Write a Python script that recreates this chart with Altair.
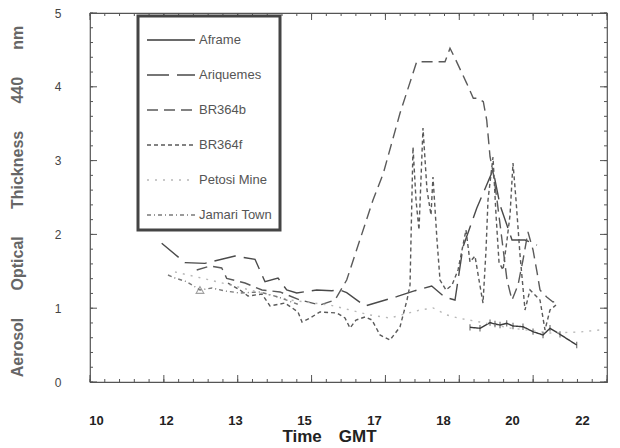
import altair as alt
import pandas as pd

# ---- data (hours GMT, AOT at 440 nm) ----
series_names = ["Aframe", "Ariquemes", "BR364b", "BR364f", "Petosi Mine", "Jamari Town"]

aframe_t = [18.820, 19.052, 19.285, 19.400, 19.517, 19.672, 19.818, 20.050, 20.283, 20.515, 20.677, 20.909, 21.297]
aframe_v = [0.741, 0.728, 0.804, 0.786, 0.772, 0.795, 0.759, 0.749, 0.682, 0.637, 0.728, 0.646, 0.501]

ariq_t = [11.664, 12.205, 12.669, 13.366, 13.830, 14.062, 14.364, 14.566, 14.798, 15.262, 15.610, 15.803,
          15.958, 16.383, 17.119, 17.544, 17.931, 18.240, 18.472, 18.658, 18.976, 19.354, 19.517, 19.795,
          20.097, 20.375]
ariq_v = [1.879, 1.617, 1.608, 1.707, 1.663, 1.359, 1.409, 1.247, 1.206, 1.247, 1.237, 1.247,
          1.210, 1.030, 1.156, 1.237, 1.301, 1.148, 1.111, 1.829, 2.354, 2.873, 2.398, 1.924,
          1.924, 1.856]

br_b_t = [12.477, 12.785, 13.057, 13.173, 13.598, 13.992, 14.410, 14.874, 15.339, 15.687, 15.958, 16.569,
          16.808, 17.195, 17.583, 18.240, 18.356, 18.472, 18.744, 18.897, 19.013, 19.129, 19.208, 19.285,
          19.361, 19.447, 19.563, 19.679, 19.795, 19.934, 20.050, 20.166, 20.283, 20.375, 20.445, 20.600,
          20.747, 20.909]
br_b_v = [1.518, 1.572, 1.545, 1.405, 1.341, 1.247, 1.220, 1.111, 1.043, 1.111, 1.382, 2.466,
          2.828, 3.641, 4.340, 4.340, 4.522, 4.386, 4.047, 3.844, 3.844, 3.798, 3.550, 3.053,
          2.828, 2.466, 1.924, 1.382, 1.111, 1.314, 1.653, 2.033, 1.789, 1.491, 1.247, 1.152,
          1.084, 1.111]

br_f_t = [13.203, 13.482, 13.667, 13.992, 14.178, 14.526, 14.828, 14.921, 15.106, 15.339, 15.734, 15.919,
          16.035, 16.174, 16.383, 16.545, 16.731, 16.963, 17.195, 17.358, 17.428, 17.497, 17.567, 17.636,
          17.729, 17.822, 17.915, 17.961, 18.054, 18.124, 18.263, 18.403, 18.542, 18.635, 18.727, 18.820,
          18.936, 19.029, 19.122, 19.192, 19.238, 19.354, 19.424, 19.493, 19.586, 19.679, 19.749, 19.818,
          19.888, 19.981, 20.097, 20.213, 20.329, 20.445, 20.561, 20.677, 20.816]
br_f_v = [1.341, 1.247, 1.165, 1.192, 1.030, 1.070, 0.949, 0.813, 0.867, 0.949, 0.935, 0.867,
          0.732, 0.840, 0.881, 0.840, 0.637, 0.569, 0.745, 1.111, 1.314, 3.184, 2.466, 2.060,
          3.442, 2.602, 2.263, 2.778, 1.924, 1.382, 1.247, 1.314, 1.518, 1.789, 2.060, 1.626,
          1.707, 1.382, 1.070, 1.789, 2.466, 3.049, 2.263, 1.626, 1.518, 1.924, 2.263, 2.967,
          2.466, 1.721, 0.976, 1.247, 1.179, 1.111, 0.705, 0.976, 1.043]

petosi_t = [11.973, 12.785, 13.714, 14.642, 15.571, 16.499, 16.963, 17.660, 17.961, 18.286, 18.542, 19.052,
            19.749, 20.677, 21.373, 21.838]
petosi_v = [1.491, 1.382, 1.247, 1.111, 1.043, 0.908, 0.867, 0.976, 1.003, 0.908, 0.867, 0.813,
            0.732, 0.664, 0.678, 0.705]

jamari_t = [11.810, 11.973, 12.245, 12.553, 12.832, 13.133, 13.482, 13.946, 14.364, 14.874]
jamari_v = [1.450, 1.409, 1.359, 1.247, 1.274, 1.233, 1.206, 1.220, 1.152, 1.043]
jamari_marker_t = [12.553]
jamari_marker_v = [1.247]

# axis tick / label definitions
x_label_pos = [10.139, 11.764, 13.366, 14.967, 16.592, 18.193, 19.795, 21.420]
x_label_txt = ["10", "12", "13", "15", "17", "18", "20", "22"]
x_major = [10 + k * 12 / 7 for k in range(8)]
x_minor = [10 + k * 12 / 35 for k in range(36)]
y_major = [0, 1, 2, 3, 4, 5]
y_minor = [round(k * 0.2, 2) for k in range(26)]

# ---- build table ----
rows = []
for name, ts, vs in [("Aframe", aframe_t, aframe_v), ("Ariquemes", ariq_t, ariq_v),
                     ("BR364b", br_b_t, br_b_v), ("BR364f", br_f_t, br_f_v),
                     ("Petosi Mine", petosi_t, petosi_v), ("Jamari Town", jamari_t, jamari_v)]:
    for i, (t, v) in enumerate(zip(ts, vs)):
        rows.append({"series": name, "hour": t, "aot": v, "i": i})
df = pd.DataFrame(rows)
df_af = df[df.series == "Aframe"]
df_jm = pd.DataFrame({"hour": jamari_marker_t, "aot": jamari_marker_v})

colors = ["#3a3a3a", "#4a4a4a", "#5a5a5a", "#5a5a5a", "#b8b8b8", "#7a7a7a"]
dashes = [[1, 0], [22, 8], [11, 6], [4, 3], [2, 6], [4, 3, 1, 3]]

W, H = 517, 369
xscale = alt.Scale(domain=[10, 22], nice=False, zero=False)
yscale = alt.Scale(domain=[0, 5], nice=False, zero=False)

# label-expression built from the label lists
cuts = [(x_label_pos[i] + x_label_pos[i + 1]) / 2 for i in range(len(x_label_pos) - 1)]
expr = "'" + x_label_txt[-1] + "'"
for c, t in reversed(list(zip(cuts, x_label_txt[:-1]))):
    expr = f"datum.value < {c:.4f} ? '{t}' : " + expr

FONT = "Liberation Sans"
GREY = "#555555"
GAP = "\u2003\u2002\u2009"

x_label_axis = alt.Axis(orient="bottom", values=x_label_pos, labelExpr=expr, ticks=False, tickSize=0,
                        domain=False, grid=False, labelPadding=32, labelFontSize=13, labelFont=FONT,
                        labelFontWeight="bold", labelColor="#222222", labelFlush=False,
                        title="Time\u2002\u2002GMT", titleFont=FONT, titleFontSize=17, titleFontWeight="bold",
                        titleColor="#222222", titleX=239, titleY=54, titleAlign="center",
                        titleBaseline="middle")
y_label_axis = alt.Axis(orient="left", values=y_major, ticks=False, tickSize=0, domain=False, grid=False,
                        labelPadding=29, labelFontSize=12, labelFont=FONT, labelColor="#444444",
                        labelFlush=False,
                        title=GAP.join(["Aerosol", "Optical", "Thickness", "440", "nm"]),
                        titleFont=FONT, titleFontSize=16, titleFontWeight="bold", titleColor="#666666",
                        titleX=-73, titleY=188, titleAlign="center", titleBaseline="middle", titleAngle=270)

lines = alt.Chart(df).mark_line(strokeWidth=1.4).encode(
    x=alt.X("hour:Q", scale=xscale, axis=x_label_axis),
    y=alt.Y("aot:Q", scale=yscale, axis=y_label_axis),
    color=alt.Color("series:N", scale=alt.Scale(domain=series_names, range=colors),
                    legend=alt.Legend(orient="none", legendX=48, legendY=3, title=None,
                                      symbolType="M-1,0L2.2,0", symbolSize=900, symbolStrokeWidth=1.4,
                                      labelFont=FONT, labelFontSize=13, labelColor="#555555",
                                      rowPadding=12, padding=8, labelOffset=21,
                                      strokeColor="#444444", fillColor="white", labelLimit=200)),
    strokeDash=alt.StrokeDash("series:N", scale=alt.Scale(domain=series_names, range=dashes), legend=None),
    order="i:Q",
)

af_marks = alt.Chart(df_af).mark_point(shape="M0,-1L0,1", size=40, strokeWidth=1.2, color="#3a3a3a").encode(
    x=alt.X("hour:Q", scale=xscale, axis=None), y=alt.Y("aot:Q", scale=yscale, axis=None))
jm_marks = alt.Chart(df_jm).mark_point(shape="triangle-up", size=60, strokeWidth=1.1, filled=False,
                                       color="#7a7a7a").encode(
    x=alt.X("hour:Q", scale=xscale, axis=None), y=alt.Y("aot:Q", scale=yscale, axis=None))


def xticks(vals, y0, y1):
    return alt.Chart(pd.DataFrame({"t": vals})).mark_rule(color=GREY, strokeWidth=1).encode(
        x=alt.X("t:Q", scale=xscale, axis=None), y=alt.value(y0), y2=alt.value(y1))


def yticks(vals, x0, x1):
    return alt.Chart(pd.DataFrame({"v": vals})).mark_rule(color=GREY, strokeWidth=1).encode(
        y=alt.Y("v:Q", scale=yscale, axis=None), x=alt.value(x0), x2=alt.value(x1))


tick_layers = [
    xticks(x_major, H, H - 7), xticks(x_minor, H, H - 3),
    xticks(x_major, 0, 7), xticks(x_minor, 0, 3),
    yticks(y_major, 0, 7), yticks(y_minor, 0, 3),
    yticks(y_major, W, W - 7), yticks(y_minor, W, W - 3),
]

chart = alt.layer(lines, af_marks, jm_marks, *tick_layers).resolve_axis(
    x="independent", y="independent"
).properties(
    width=W, height=H, autosize=alt.AutoSizeParams(type="none"),
    padding={"left": 90, "top": 13, "right": 13, "bottom": 66},
).configure_view(stroke="#555555", strokeWidth=1.2).configure_legend(strokeWidth=3)

chart.save("out.html", embed_options={"renderer": "svg", "actions": False})
